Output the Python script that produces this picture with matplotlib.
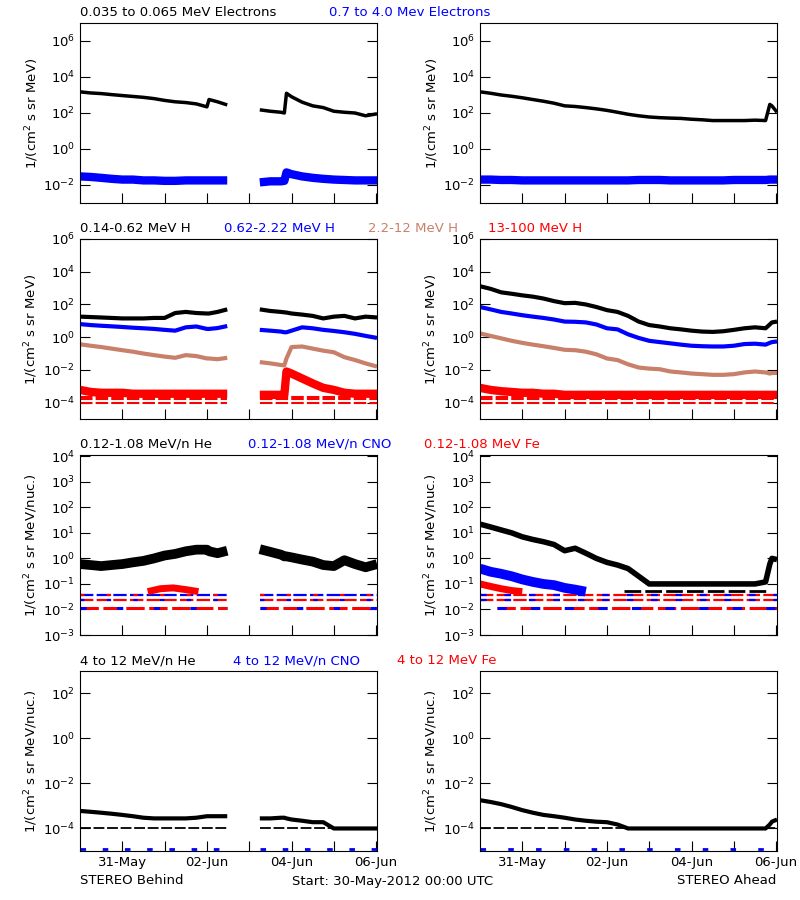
import numpy as np
import matplotlib
matplotlib.use("Agg")
import matplotlib.pyplot as plt

nan = np.nan
# ---- time grids (days since 30-May-2012 00:00) ----
TL = [0.0,0.25,0.5,0.75,1.0,1.25,1.5,1.75,2.0,2.25,2.5,2.75,3.0,3.05,3.25,3.48,nan,
      4.25,4.5,4.75,4.83,4.88,5.0,5.25,5.5,5.75,6.0,6.25,6.5,6.75,7.02]
TR = [0.0,0.25,0.5,0.75,1.0,1.25,1.5,1.75,2.0,2.25,2.5,2.75,3.0,3.25,3.5,3.75,4.0,
      4.25,4.5,4.75,5.0,5.25,5.5,5.75,6.0,6.25,6.5,6.75,6.85,6.9,7.02]

# ---- Row 1: electrons ----
e_lo_B = [1500,1300,1200,1050,930,830,740,630,500,420,380,320,220,560,420,280,nan,
          150,125,110,100,1250,800,400,250,200,125,110,100,70,90]
e_hi_B = [0.03,0.028,0.025,0.022,0.02,0.02,0.018,0.018,0.017,0.017,0.018,0.018,0.018,0.018,0.018,0.018,nan,
          0.014,0.016,0.016,0.017,0.05,0.04,0.03,0.025,0.022,0.02,0.019,0.018,0.018,0.018]
e_lo_A = [1500,1250,1000,850,700,560,450,350,250,230,200,170,140,110,85,70,60,
          55,52,50,45,42,38,38,38,38,40,38,300,250,110]
e_hi_A = [0.02,0.02,0.019,0.019,0.018,0.018,0.018,0.018,0.018,0.018,0.018,0.018,0.018,0.018,0.018,0.019,0.019,
          0.019,0.018,0.018,0.018,0.018,0.018,0.018,0.019,0.019,0.019,0.019,0.02,0.02,0.02]

# ---- Row 2: protons ----
h1_B = [18,17,16,15,14,14,14,15,15,30,35,30,28,28,35,50,nan,50,40,35,33,32,28,24,20,14,18,20,14,18,16]
h2_B = [6.3,5.5,5,4.6,4.2,3.8,3.5,3.2,2.8,2.5,4,4.5,3.2,3.2,3.6,4.8,nan,2.8,2.5,2.2,2.0,2.0,2.5,4.0,3.5,2.8,2.4,2.0,1.6,1.2,0.9]
h3_B = [0.37,0.3,0.25,0.2,0.16,0.13,0.1,0.08,0.065,0.055,0.08,0.07,0.05,0.05,0.045,0.055,nan,
        0.03,0.025,0.02,0.019,0.05,0.25,0.27,0.2,0.15,0.12,0.06,0.04,0.025,0.016]
h4_B = [6e-4,4.5e-4,4e-4,4e-4,4e-4,3.5e-4,3.5e-4,3.5e-4,3.5e-4,3.5e-4,3.5e-4,3.5e-4,3.5e-4,3.5e-4,3.5e-4,3.5e-4,nan,
        3e-4,3e-4,3e-4,3e-4,8e-3,6e-3,3e-3,1.5e-3,8e-4,6e-4,4e-4,3.5e-4,3.5e-4,3.5e-4]
h1_A = [1300,900,550,450,360,300,230,160,120,125,100,70,45,35,20,9,5.5,4.5,3.5,3,2.5,2.2,2.1,2.3,2.8,3.5,4,3.5,6,8,9]
h2_A = [70,50,35,28,22,18,15,12,9,8.7,8,6,3.5,3,1.5,0.9,0.6,0.5,0.42,0.35,0.3,0.28,0.27,0.27,0.3,0.38,0.4,0.35,0.45,0.5,0.55]
h3_A = [1.7,1.2,0.85,0.6,0.45,0.35,0.28,0.22,0.17,0.16,0.13,0.09,0.05,0.04,0.022,0.014,0.012,0.011,0.008,0.007,0.006,
        0.0055,0.005,0.005,0.0055,0.007,0.008,0.007,0.006,0.0065,0.0065]
h4_A = [8e-4,6e-4,5e-4,4.5e-4,4e-4,4e-4,3.5e-4,3.5e-4,3e-4,3e-4,3e-4,3e-4,3e-4,3e-4,3e-4,3e-4,3e-4,3e-4,3e-4,3e-4,3e-4,
        3e-4,3e-4,3e-4,3e-4,3e-4,3e-4,3e-4,3e-4,3e-4,3e-4]
h4_floor_levels = [2.2e-4, 1.6e-4, 1.0e-4]

# ---- Row 3: low-energy heavy ions ----
he_lo_B = [0.6,0.55,0.5,0.55,0.6,0.7,0.8,1.0,1.3,1.5,1.9,2.2,2.2,1.9,1.6,2.0,nan,2.3,1.8,1.4,1.2,1.2,1.1,0.9,0.75,0.55,0.5,0.85,0.6,0.45,0.6]
fe_lo_B_t = [1.6,1.9,2.2,2.5,2.8]
fe_lo_B = [0.05,0.065,0.07,0.06,0.05]
he_lo_A = [22,17,13,10,7,5.5,4.5,3.5,2,2.5,1.6,1.0,0.7,0.55,0.4,0.2,0.1,0.1,0.1,0.1,0.1,0.1,0.1,0.1,0.1,0.1,0.1,0.12,0.6,1.0,0.9]
cno_lo_A_t = [0.0,0.25,0.5,0.75,1.0,1.25,1.5,1.75,2.0,2.25,2.5]
cno_lo_A = [0.4,0.3,0.25,0.2,0.15,0.12,0.1,0.09,0.07,0.06,0.05]
fe_lo_A_t = [0.0,0.25,0.5,0.75,1.0]
fe_lo_A = [0.1,0.08,0.065,0.055,0.05]
lo_floor_levels = [0.0115, 0.023, 0.036]
he_lo_A_floor = 0.052

# ---- Row 4: high-energy heavy ions ----
he_hi_B = [6e-4,5.5e-4,5e-4,4.5e-4,4e-4,3.5e-4,3e-4,2.8e-4,2.8e-4,2.8e-4,2.8e-4,3e-4,3.5e-4,3.5e-4,3.5e-4,3.5e-4,nan,
           2.8e-4,2.8e-4,3e-4,3e-4,2.8e-4,2.5e-4,2.2e-4,1.9e-4,1.9e-4,1.0e-4,1.0e-4,1.0e-4,1.0e-4,1.0e-4]
he_hi_A = [1.8e-3,1.5e-3,1.2e-3,9e-4,6.5e-4,5e-4,4e-4,3.5e-4,3e-4,2.5e-4,2.2e-4,2e-4,1.9e-4,1.5e-4,1.0e-4,1.0e-4,1.0e-4,
           1.0e-4,1.0e-4,1.0e-4,1.0e-4,1.0e-4,1.0e-4,1.0e-4,1.0e-4,1.0e-4,1.0e-4,1.0e-4,1.5e-4,2e-4,2.5e-4]
hi_floor_level = 1.0e-4
cno_hi_floor = 1.25e-5

tick_days = [1, 2, 3, 4, 5, 6, 7]
tick_labels = ["31-May", "", "02-Jun", "", "04-Jun", "", "06-Jun"]

BROWN = "#c8806a"
# ---------------- figure ----------------
fig = plt.figure(figsize=(8, 9), dpi=100)
plt.rcParams['font.family'] = ['DejaVu Sans']
FS = 9.5

rows = [  # (top_px, bottom_px, ylim, yticks, ylabel)
    (23, 203, (1e-3, 1e7), [-2, 0, 2, 4, 6], "1/(cm$^2$ s sr MeV)"),
    (239, 419, (1e-5, 1e6), [-4, -2, 0, 2, 4, 6], "1/(cm$^2$ s sr MeV)"),
    (455, 635, (1e-3, 10**4.05), [-3, -2, -1, 0, 1, 2, 3, 4], "1/(cm$^2$ s sr MeV/nuc.)"),
    (671, 851, (1e-5, 10**2.99), [-4, -2, 0, 2], "1/(cm$^2$ s sr MeV/nuc.)"),
]
cols = [80, 480]
axes = [[None, None] for _ in rows]
for r, (top, bot, ylim, yt, ylab) in enumerate(rows):
    for c, x0 in enumerate(cols):
        ax = fig.add_axes([x0/800, 1-bot/900, 297/800, (bot-top)/900])
        ax.set_yscale('log')
        ax.set_ylim(*ylim)
        ax.set_xlim(0, 7.02)
        ax.set_yticks([10.0**k for k in yt])
        ax.set_yticklabels([r'$10^{%d}$' % k for k in yt], fontsize=FS)
        ax.yaxis.set_minor_locator(matplotlib.ticker.NullLocator())
        ax.set_xticks(tick_days)
        ax.set_xticklabels(tick_labels if r == 3 else [], fontsize=FS)
        ax.tick_params(direction='in', length=7, top=False, right=True, width=0.8)
        ax.set_ylabel(ylab, fontsize=FS, labelpad=2)
        axes[r][c] = ax

def line(ax, t, v, color, lw=2.5):
    ax.plot(t, v, color=color, lw=lw, solid_capstyle='butt')

def floor(ax, level, t0, t1, color, ls=(0, (6, 1.5)), lw=2):
    ax.plot([t0, t1], [level, level], color=color, lw=lw, ls=ls)

# Row 1
a, b = axes[0]
line(a, TL, e_hi_B, 'blue', 6); line(a, TL, e_lo_B, 'black', 2.5)
line(b, TR, e_hi_A, 'blue', 6); line(b, TR, e_lo_A, 'black', 2.5)
# Row 2
a, b = axes[1]
for lv in h4_floor_levels:
    floor(a, lv, 0, 3.48, 'red', lw=1.5); floor(a, lv, 4.25, 7.02, 'red', lw=1.5)
    floor(b, lv, 0, 7.02, 'red', lw=1.5)
line(a, TL, h4_B, 'red', 6); line(a, TL, h3_B, BROWN, 3); line(a, TL, h2_B, 'blue', 3); line(a, TL, h1_B, 'black', 3)
line(b, TR, h4_A, 'red', 6); line(b, TR, h3_A, BROWN, 3); line(b, TR, h2_A, 'blue', 3); line(b, TR, h1_A, 'black', 3)
# Row 3
a, b = axes[2]
for i, lv in enumerate(lo_floor_levels):
    w = 2.2 if i == 0 else 1.6
    for seg in [(0, 3.48), (4.25, 7.02)]:
        floor(a, lv, *seg, 'red' if i != 2 else 'blue', lw=w)
        floor(a, lv, *seg, 'blue' if i != 2 else 'red', ls=(0, (2, 10)), lw=w)
    floor(b, lv, 0.4 if i == 0 else 0, 7.02, 'red', lw=w)
    floor(b, lv, 0.4 if i == 0 else 0, 7.02, 'blue', ls=(0, (3, 8)), lw=w)
floor(b, he_lo_A_floor, 3.4, 6.8, 'black', lw=2)
line(a, fe_lo_B_t, fe_lo_B, 'red', 5)
line(a, TL, he_lo_B, 'black', 7)
line(b, cno_lo_A_t, cno_lo_A, 'blue', 7)
line(b, fe_lo_A_t, fe_lo_A, 'red', 5)
line(b, TR, he_lo_A, 'black', 4)
# Row 4
a, b = axes[3]
for seg in [(0, 3.48), (4.25, 7.02)]:
    floor(a, hi_floor_level, *seg, 'black', lw=1.3)
    floor(a, cno_hi_floor, *seg, 'blue', ls=(0, (2, 6)), lw=2)
floor(b, hi_floor_level, 0, 7.02, 'black', lw=1.3)
floor(b, cno_hi_floor, 0, 7.02, 'blue', ls=(0, (2, 8)), lw=2)
line(a, TL, he_hi_B, 'black', 3)
line(b, TR, he_hi_A, 'black', 3)

# Titles
def ftext(xpx, ypx, s, color='black', ha='left'):
    fig.text(xpx/800, 1-ypx/900, s, color=color, fontsize=FS, ha=ha, va='center')

ftext(80, 13, "0.035 to 0.065 MeV Electrons"); ftext(329, 13, "0.7 to 4.0 Mev Electrons", 'blue')
ftext(80, 229, "0.14-0.62 MeV H"); ftext(224, 229, "0.62-2.22 MeV H", 'blue')
ftext(368, 229, "2.2-12 MeV H", BROWN); ftext(488, 229, "13-100 MeV H", 'red')
ftext(80, 444, "0.12-1.08 MeV/n He"); ftext(248, 444, "0.12-1.08 MeV/n CNO", 'blue')
ftext(424, 444, "0.12-1.08 MeV Fe", 'red')
ftext(80, 661, "4 to 12 MeV/n He"); ftext(233, 661, "4 to 12 MeV/n CNO", 'blue')
ftext(397, 661, "4 to 12 MeV Fe", 'red')
ftext(80, 881, "STEREO Behind"); ftext(292, 881, "Start: 30-May-2012 00:00 UTC")
ftext(776, 881, "STEREO Ahead", ha='right')

fig.savefig("out.png", dpi=100, facecolor='white')
